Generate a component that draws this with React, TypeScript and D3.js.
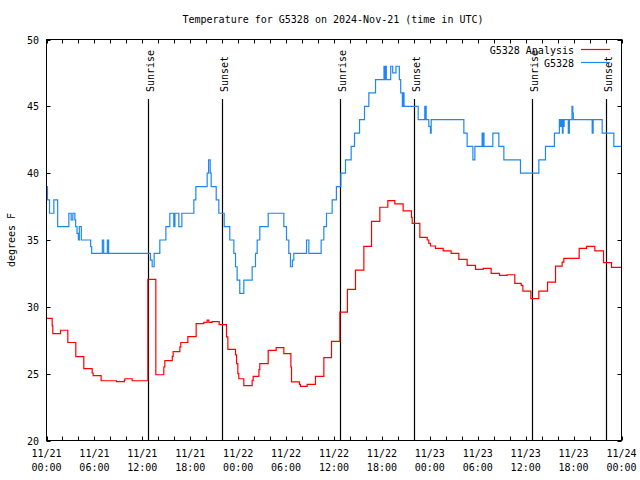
import React from "react";
import * as d3 from "d3";

// hours since 2024-11-21 00:00 UTC
const obsHours = [0, 0.12, 0.38, 0.92, 1.4, 2.8, 3.09, 3.3, 3.55, 3.65, 3.82, 3.99, 4.11, 4.36, 5.53, 5.66,
  6.99, 7.16, 7.62, 7.78, 13.02, 13.23, 13.48, 14.19, 14.95, 15.44, 15.94, 16.08, 16.57, 16.95, 18.45, 18.7,
  20.12, 20.3, 20.5, 20.62, 21.25, 21.58, 22.25, 22.95, 23.46, 23.67, 23.87, 24.2, 24.71, 25.75, 26.17, 26.38, 26.71, 27.76, 29.72,
  30.05, 30.34, 30.55, 30.8, 30.97, 32.56, 32.85, 34.39, 34.73, 35.06, 35.77, 36.3, 36.86, 37.44, 38.15, 38.57, 39.2, 39.82, 40.36,
  41.2, 42.26, 42.36, 42.45, 42.55, 43.1, 43.35, 43.76, 44.18, 44.35, 44.56, 44.62, 44.77, 46.54, 47.37, 47.42, 47.5, 47.54, 47.87,
  48.08, 48.17, 52.26, 52.67, 53.39, 53.64, 54.55, 54.62, 54.7, 54.78, 55.51, 55.89, 56.64, 57.27, 59.35, 61.65, 62.48, 63.6,
  64.22, 64.35, 64.45, 64.6, 64.68, 64.75, 64.82, 65.34, 65.47, 65.8, 65.9, 65.97, 68.33, 68.45, 69.58, 71.04, 72];
const obsTemps = [39, 38, 37, 38, 36, 37, 36.5, 37, 36.5, 36, 35.5, 35, 36, 35, 34.5, 34,
  35, 34, 35, 34, 33.5, 33, 34, 35, 36, 37, 36, 37, 36, 37, 38, 39,
  40, 41, 40, 39, 38, 37, 36, 35, 34, 33, 32, 31, 32, 33, 34, 35, 36, 37, 36,
  35, 34, 33, 33.5, 34, 35, 34, 35, 36, 37, 38, 39, 40, 41, 42, 43, 44, 45, 46,
  47, 48, 47, 48, 47, 48, 47.5, 48, 47, 46, 45, 46, 45, 44, 45, 44, 45, 44, 43.5,
  43, 44, 43, 42, 41, 42, 43, 42, 43, 42, 42, 43, 42, 41, 40, 41, 42, 43,
  44, 43.5, 44, 43, 44, 43.5, 44, 43, 44, 45, 44.5, 44, 43, 44, 43, 42, 42];

const anaHours = [0, 0.71, 0.79, 1.75, 2.67, 3.67, 4.67, 5.72, 5.84, 6.84, 8.76, 9.75, 9.81, 10.73, 12.69, 13.69, 14.69, 14.82,
  15.75, 15.86, 16.7, 16.82, 17.7, 18.74, 19.7, 20.12, 20.33, 20.74, 21.62, 22.54, 22.71, 23.67, 23.8, 23.96, 24.08, 24.71, 25.75,
  25.88, 26.6, 26.71, 27.76, 28.76, 29.72, 30.6, 30.68, 31.68, 31.8, 32.64, 33.68, 34.73, 35.69, 36.73, 37.68, 38.69, 39.74, 40.7,
  41.74, 42.74, 43.62, 44.66, 45.7, 45.79, 46.75, 47.67, 47.87, 48.08, 48.71, 49.67, 50.67, 51.63, 52.67, 53.72, 54.68, 55.68,
  56.72, 57.68, 58.64, 59.44, 59.65, 60.65, 61.65, 62.74, 63.74, 64.57, 64.78, 66.7, 67.62, 68.66, 69.75, 70.75, 72];
const anaTemps = [29.13, 28.57, 28.0, 28.25, 27.33, 26.27, 25.37, 25.05, 24.85, 24.47, 24.4, 24.5, 24.62, 24.47, 32.05, 24.92, 25.5, 25.97,
  26.3, 26.65, 27.0, 27.33, 27.77, 28.75, 28.83, 29.0, 28.83, 28.9, 28.67, 27.75, 26.82, 26.4, 25.75, 25.0, 24.62, 24.1, 24.5,
  24.8, 25.3, 25.75, 26.75, 26.95, 26.5, 25.5, 24.38, 24.2, 24.05, 24.2, 24.8, 26.2, 27.42, 29.6, 31.3, 32.75, 34.53, 36.4,
  37.45, 37.95, 37.7, 37.18, 36.7, 36.25, 35.2, 35.0, 34.75, 34.55, 34.38, 34.18, 34.0, 33.55, 33.1, 32.8, 32.88, 32.5,
  32.35, 32.4, 31.75, 31.6, 31.18, 30.62, 31.18, 31.85, 33.05, 33.35, 33.62, 34.37, 34.52, 34.18, 33.3, 32.95, 32.95];

const sunHours = [12.75, 22.01, 36.79, 46.06, 60.83, 70.1];
const sunLabels = ["Sunrise", "Sunset", "Sunrise", "Sunset", "Sunrise", "Sunset"];

const xTickHours = [0, 6, 12, 18, 24, 30, 36, 42, 48, 54, 60, 66, 72];
const xTickDates = ["11/21", "11/21", "11/21", "11/21", "11/22", "11/22", "11/22", "11/22", "11/23", "11/23", "11/23", "11/23", "11/24"];
const xTickTimes = ["00:00", "06:00", "12:00", "18:00", "00:00", "06:00", "12:00", "18:00", "00:00", "06:00", "12:00", "18:00", "00:00"];
const yTicks = [20, 25, 30, 35, 40, 45, 50];

const seriesNames = ["G5328 Analysis", "G5328"];
const seriesColors = ["#ff0000", "#1e88f0"];

const FONT = "'DejaVu Sans Mono', monospace";

export default function App() {
  const W = 640, H = 480;
  const L = 46.5, R = 621.5, T = 39.5, B = 440.5;
  const x = d3.scaleLinear().domain([0, 72]).range([L, R]);
  const y = d3.scaleLinear().domain([20, 50]).range([B, T]);
  const line = d3.line<[number, number]>().x(d => x(d[0])).y(d => y(d[1])).curve(d3.curveStepAfter);
  const obs: [number, number][] = obsHours.map((h, i) => [h, obsTemps[i]]);
  const ana: [number, number][] = anaHours.map((h, i) => [h, anaTemps[i]]);
  const minor = d3.range(0, 73, 2);

  return (
    <svg width={W} height={H} style={{ position: "absolute", left: 0, top: 0, background: "#fff" }} fontFamily={FONT} fontSize={10}>
      <rect x={0} y={0} width={W} height={H} fill="#fff" />
      <text x={333} y={23} textAnchor="middle">Temperature for G5328 on 2024-Nov-21 (time in UTC)</text>
      <text transform={`translate(15,240) rotate(-90)`} textAnchor="middle">degrees F</text>

      {minor.map(h => (
        <g key={"mt" + h}>
          <line x1={Math.round(x(h)) + 0.5} x2={Math.round(x(h)) + 0.5} y1={B} y2={B - 4} stroke="#000" />
          <line x1={Math.round(x(h)) + 0.5} x2={Math.round(x(h)) + 0.5} y1={T} y2={T + 4} stroke="#000" />
        </g>
      ))}
      {yTicks.map(v => (
        <g key={"yt" + v}>
          <line x1={L} x2={L + 4} y1={Math.round(y(v)) + 0.5} y2={Math.round(y(v)) + 0.5} stroke="#000" />
          <line x1={R} x2={R - 4} y1={Math.round(y(v)) + 0.5} y2={Math.round(y(v)) + 0.5} stroke="#000" />
          <text x={39} y={y(v) + 4} textAnchor="end">{v}</text>
        </g>
      ))}
      {xTickHours.map((h, i) => (
        <g key={"xl" + h}>
          <text x={x(h)} y={457} textAnchor="middle">{xTickDates[i]}</text>
          <text x={x(h)} y={471} textAnchor="middle">{xTickTimes[i]}</text>
        </g>
      ))}

      {sunHours.map((h, i) => {
        const sx = Math.round(x(h)) + 0.5;
        return (
          <g key={"sun" + i}>
            <line x1={sx} x2={sx} y1={99} y2={B} stroke="#000" strokeWidth={1.2} />
            <text transform={`translate(${sx + 5},92) rotate(-90)`} textAnchor="start">{sunLabels[i]}</text>
          </g>
        );
      })}

      <path d={line(ana) || ""} fill="none" stroke={seriesColors[0]} strokeWidth={1.2} />
      <path d={line(obs) || ""} fill="none" stroke={seriesColors[1]} strokeWidth={1.2} />

      <rect x={L} y={T} width={R - L} height={B - T} fill="none" stroke="#000" />

      {seriesNames.map((n, i) => (
        <g key={"lg" + i}>
          <text x={574} y={54 + i * 13} textAnchor="end">{n}</text>
          <line x1={581} x2={610} y1={49.5 + i * 13} y2={49.5 + i * 13} stroke={seriesColors[i]} strokeWidth={1.2} />
        </g>
      ))}
    </svg>
  );
}
